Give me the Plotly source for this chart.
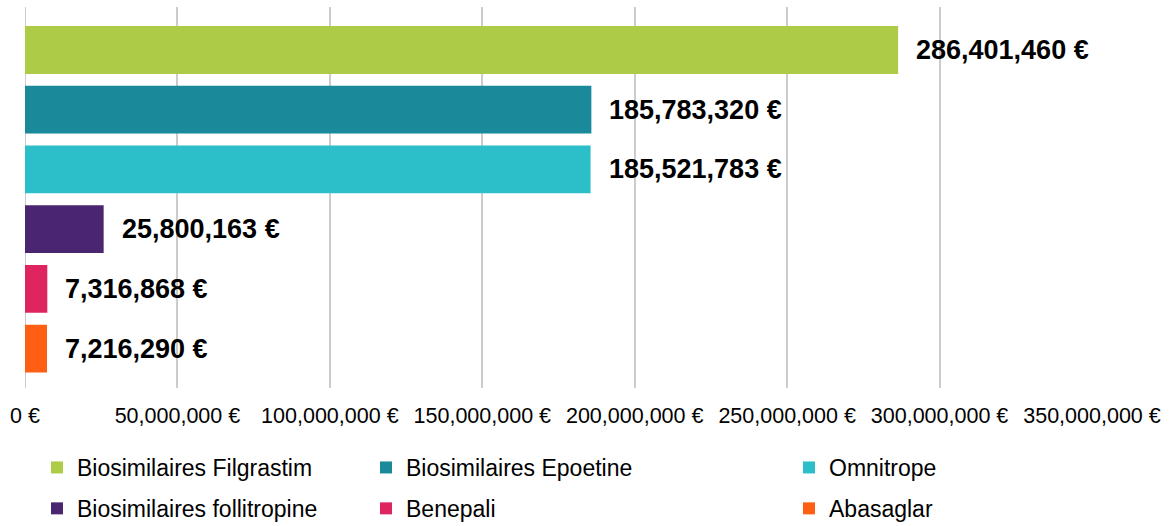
import plotly.graph_objects as go

names = ["Biosimilaires Filgrastim", "Biosimilaires Epoetine", "Omnitrope",
         "Biosimilaires follitropine", "Benepali", "Abasaglar"]
values = [286401460, 185783320, 185521783, 25800163, 7316868, 7216290]
colors = ["#AECB48", "#1A8A9B", "#2CBFC9", "#4A2670", "#DF2560", "#FF5F13"]
legend_of = ["legend", "legend2", "legend3", "legend", "legend2", "legend3"]
tick_vals = [0, 50000000, 100000000, 150000000, 200000000, 250000000, 300000000, 350000000]
tick_text = ["0 €", "50,000,000 €", "100,000,000 €", "150,000,000 €", "200,000,000 €",
             "250,000,000 €", "300,000,000 €", "350,000,000 €"]

FONT = "Liberation Sans, Arial, sans-serif"

fig = go.Figure()
for i, (n, v, c, lg) in enumerate(zip(names, values, colors, legend_of)):
    fig.add_trace(go.Bar(
        x=[v], y=[n], orientation="h", name=n, marker=dict(color=c, line=dict(width=0)),
        width=0.8, legend=lg, legendgroup=n, hoverinfo="skip",
    ))
    fig.add_annotation(
        x=v, y=n, xref="x", yref="y", text=f"<b>{v:,} €</b>", showarrow=False,
        xanchor="left", yanchor="middle", xshift=16,
        font=dict(family=FONT, size=27, color="#000000"),
    )

legend_common = dict(
    orientation="v", xref="container", yref="container", yanchor="top", xanchor="left",
    font=dict(family=FONT, size=23, color="#000000"), bgcolor="rgba(0,0,0,0)",
    tracegroupgap=8, itemclick=False, itemdoubleclick=False,
)

fig.update_layout(
    width=1169, height=526,
    margin=dict(l=25, r=77, t=7, b=138, autoexpand=False),
    paper_bgcolor="white", plot_bgcolor="white",
    barmode="overlay",
    showlegend=True,
    legend=dict(x=37 / 1169, y=1 - 446 / 526, **legend_common),
    legend2=dict(x=366 / 1169, y=1 - 446 / 526, **legend_common),
    legend3=dict(x=789 / 1169, y=1 - 446 / 526, **legend_common),
    xaxis=dict(
        range=[0, 350000000], tickvals=tick_vals, ticktext=tick_text,
        showgrid=True, gridcolor="#CCCCCC", gridwidth=2,
        zeroline=False, showline=False, ticks="", tickangle=0,
        tickfont=dict(family=FONT, size=21.5, color="#000000"),
        ticklabelstandoff=12, fixedrange=True, automargin=False,
    ),
    yaxis=dict(
        type="category", categoryorder="array", categoryarray=names,
        range=[5.66, -0.72], showticklabels=False, showgrid=False,
        zeroline=False, showline=False, ticks="", fixedrange=True, automargin=False,
    ),
)
fig.add_shape(type="line", xref="x", yref="paper", x0=0, x1=0, y0=0, y1=1,
              line=dict(color="#CCCCCC", width=2), layer="below")

fig.write_html("out.html", post_script="document.body.style.margin='0';",
               config={"displayModeBar": False})
